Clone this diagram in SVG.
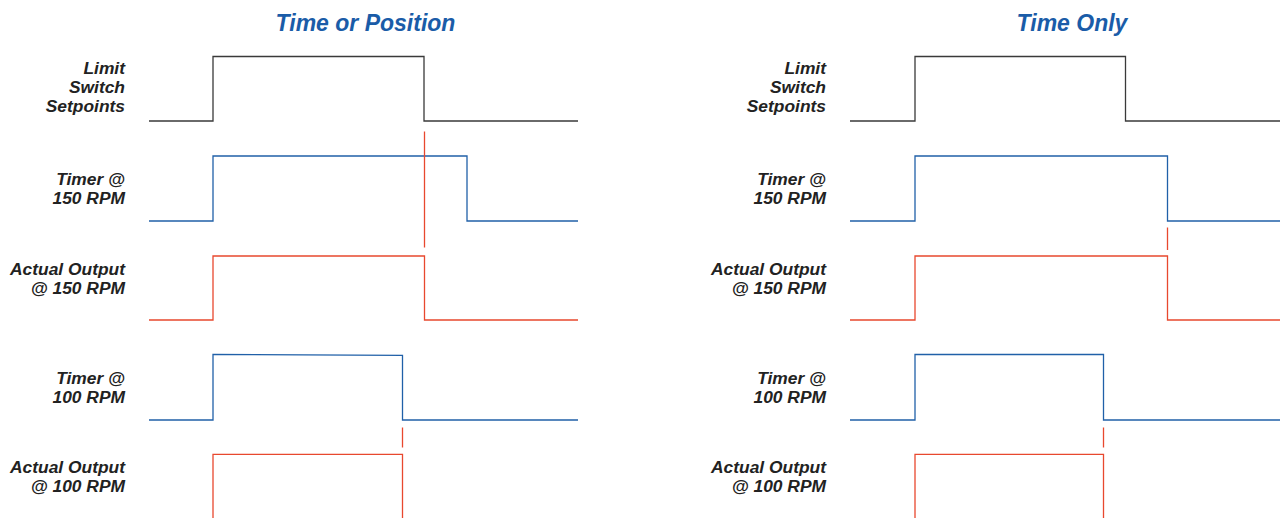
<svg xmlns="http://www.w3.org/2000/svg" width="1280" height="518" viewBox="0 0 1280 518">
<style>
.title{font-family:"Liberation Sans",Arial,sans-serif;font-weight:bold;font-style:italic;font-size:23px;fill:#1a5ca8;text-anchor:middle}
.lbl{font-family:"Liberation Sans",Arial,sans-serif;font-weight:bold;font-style:italic;font-size:17.4px;fill:#222;text-anchor:end}
.k{fill:none;stroke:#3a3a3a;stroke-width:1.3}
.b{fill:none;stroke:#2060a8;stroke-width:1.3}
.r{fill:none;stroke:#e8482e;stroke-width:1.3}
</style>
<rect width="1280" height="518" fill="#fff"/>
<g id="left-panel">
<text class="title" x="365.5" y="31">Time or Position</text>
<g id="L-limit">
<text class="lbl" x="125" y="74">Limit</text>
<text class="lbl" x="125" y="93">Switch</text>
<text class="lbl" x="125" y="112">Setpoints</text>
</g>
<g id="L-timer150">
<text class="lbl" x="125" y="185">Timer @</text>
<text class="lbl" x="125" y="204">150 RPM</text>
</g>
<g id="L-out150">
<text class="lbl" x="125" y="275">Actual Output</text>
<text class="lbl" x="125" y="294">@ 150 RPM</text>
</g>
<g id="L-timer100">
<text class="lbl" x="125" y="384">Timer @</text>
<text class="lbl" x="125" y="403">100 RPM</text>
</g>
<g id="L-out100">
<text class="lbl" x="125" y="473">Actual Output</text>
<text class="lbl" x="125" y="492">@ 100 RPM</text>
</g>
</g>
<g id="right-panel">
<text class="title" x="1072" y="31">Time Only</text>
<g id="R-limit">
<text class="lbl" x="826" y="74">Limit</text>
<text class="lbl" x="826" y="93">Switch</text>
<text class="lbl" x="826" y="112">Setpoints</text>
</g>
<g id="R-timer150">
<text class="lbl" x="826" y="185">Timer @</text>
<text class="lbl" x="826" y="204">150 RPM</text>
</g>
<g id="R-out150">
<text class="lbl" x="826" y="275">Actual Output</text>
<text class="lbl" x="826" y="294">@ 150 RPM</text>
</g>
<g id="R-timer100">
<text class="lbl" x="826" y="384">Timer @</text>
<text class="lbl" x="826" y="403">100 RPM</text>
</g>
<g id="R-out100">
<text class="lbl" x="826" y="473">Actual Output</text>
<text class="lbl" x="826" y="492">@ 100 RPM</text>
</g>
</g>
<g id="connectors">
<polyline class="k" points="149,121 213,121 213,56.5 424,56.5 424,121 578,121"/>
<polyline class="b" points="149,221 213,221 213,156 467,156 467,221 578,221"/>
<line class="r" x1="424.5" y1="131.5" x2="424.5" y2="247.5"/>
<polyline class="r" points="149,320 213,320 213,256 424.5,256 424.5,320 578,320"/>
<polyline class="b" points="149,420 213,420 213,354.5 402.5,355.3 402.5,420 578,420"/>
<line class="r" x1="402.5" y1="427.5" x2="402.5" y2="447.5"/>
<polyline class="r" points="213,518 213,454.3 402.5,454.3 402.5,518"/>
<polyline class="k" points="850,121 915,121 915,56.5 1125.5,56.5 1125.5,121 1280,121"/>
<polyline class="b" points="850,221 915,221 915,156 1167.5,156 1167.5,221 1280,221"/>
<line class="r" x1="1167.5" y1="227.5" x2="1167.5" y2="250"/>
<polyline class="r" points="850,320 915,320 915,256 1167.5,256 1167.5,320 1280,320"/>
<polyline class="b" points="850,420 915,420 915,354.5 1103.5,354.5 1103.5,420 1280,420"/>
<line class="r" x1="1103.5" y1="427.5" x2="1103.5" y2="447.5"/>
<polyline class="r" points="915,518 915,454.3 1103.5,454.3 1103.5,518"/>
</g>
</svg>
